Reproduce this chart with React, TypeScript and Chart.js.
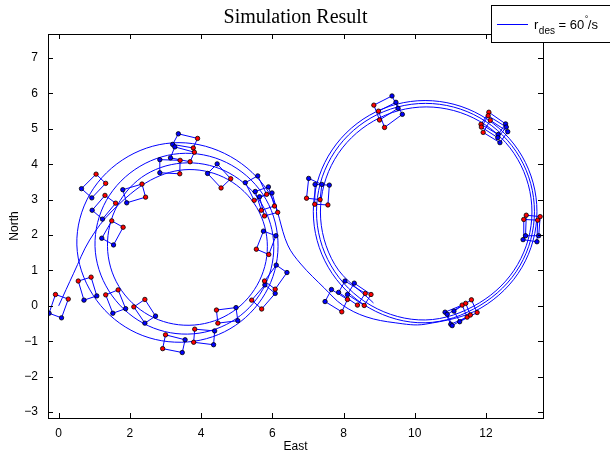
import React, { useEffect, useRef } from 'react';
import { Chart, registerables } from 'chart.js';

Chart.register(...registerables);

// ---- axes / text ----
const X_MIN = -0.3;
const X_MAX = 13.6;
const Y_MIN = -3.17;
const Y_MAX = 7.68;
const xTicks = [0, 2, 4, 6, 8, 10, 12];
const yTicks = [-3, -2, -1, 0, 1, 2, 3, 4, 5, 6, 7];
const titleText = 'Simulation Result';
const xLabel = 'East';
const yLabel = 'North';
const legendParts = { base: 'r', sub: 'des', mid: ' = 60', sup: '°', tail: '/s' };

// ---- trajectory (East, North) ----
const pathStart = [[0, 0], [0.42, 0.92], [0.87, 1.86], [1.5, 2.68]];
const leftLoop1 = [[2.58, 3.55], [3.66, 3.85], [4.75, 3.57], [5.56, 2.78], [5.86, 1.68], [5.57, 0.58], [4.77, -0.24], [3.66, -0.55], [2.54, -0.27], [1.69, 0.55], [1.37, 1.68], [1.65, 2.84]];
const leftLoop2 = [[2.45, 3.71], [3.62, 4.04], [4.81, 3.74], [5.70, 2.88], [6.04, 1.68], [5.73, 0.46], [4.85, -0.45], [3.62, -0.80], [2.37, -0.49], [1.41, 0.42], [1.02, 1.68], [1.34, 2.98]];
const leftLoop3 = [[2.28, 3.94], [3.56, 4.31], [4.86, 3.97], [5.82, 3.01], [6.16, 1.68], [5.80, 0.35], [4.81, -0.65], [3.44, -1.03], [2.03, -0.69], [0.96, 0.31], [0.51, 1.72], [0.88, 3.16]];
const crossing = [[1.95, 4.22], [3.38, 4.61], [4.82, 4.22], [5.91, 3.19], [6.43, 1.72], [6.80, 1.18], [7.46, 0.50], [7.97, 0.02], [8.63, -0.31], [9.45, -0.48], [10.29, -0.52]];
const rightLoop1 = [[11.86, -0.06], [13.01, 1.09], [13.43, 2.66], [13.01, 4.23], [11.86, 5.38], [10.29, 5.80], [8.72, 5.38], [7.57, 4.23], [7.15, 2.66], [7.57, 1.09], [8.72, -0.06], [10.29, -0.48]];
const rightLoop2 = [[11.83, 0.01], [12.95, 1.13], [13.36, 2.66], [12.95, 4.19], [11.83, 5.31], [10.30, 5.72], [8.77, 5.31], [7.65, 4.19], [7.24, 2.66], [7.65, 1.13], [8.77, 0.01], [10.30, -0.40]];
const rightLoop3 = [[11.81, 0.08], [12.89, 1.17], [13.29, 2.65], [12.89, 4.14], [11.81, 5.22], [10.32, 5.62], [8.84, 5.22], [7.75, 4.14], [7.35, 2.65], [7.75, 1.17], [8.84, 0.08]];

// ---- vehicle outlines: corners [blue, red, red, blue] ----
const leftBoxes = [
  [[-0.27, -0.21], [-0.09, 0.32], [0.27, 0.19], [0.08, -0.34]],
  [[0.71, 0.16], [0.55, 0.70], [0.91, 0.81], [1.07, 0.28]],
  [[1.52, -0.21], [1.32, 0.31], [1.67, 0.45], [1.88, -0.08]],
  [[2.42, -0.49], [2.11, -0.03], [2.42, 0.18], [2.72, -0.29]],
  [[3.55, -0.96], [3.00, -0.82], [2.92, -1.21], [3.47, -1.32]],
  [[4.38, -0.71], [3.82, -0.66], [3.79, -1.03], [4.35, -1.10]],
  [[4.98, -0.05], [4.43, -0.12], [4.47, -0.49], [5.03, -0.42]],
  [[6.11, 1.15], [5.78, 0.70], [6.08, 0.47], [6.41, 0.94]],
  [[5.79, 0.59], [5.42, 0.16], [5.70, -0.09], [6.08, 0.35]],
  [[5.75, 2.11], [5.55, 1.60], [5.90, 1.45], [6.10, 1.98]],
  [[5.59, 3.67], [5.84, 3.15], [5.49, 2.98], [5.24, 3.48]],
  [[5.89, 3.36], [6.06, 2.82], [5.69, 2.70], [5.52, 3.23]],
  [[5.99, 3.19], [6.15, 2.64], [5.78, 2.54], [5.64, 3.08]],
  [[4.45, 4.01], [4.83, 3.59], [4.56, 3.33], [4.18, 3.74]],
  [[3.36, 4.86], [3.90, 4.73], [3.78, 4.46], [3.20, 4.56]],
  [[3.26, 4.49], [3.81, 4.34], [3.69, 4.07], [3.14, 4.18]],
  [[2.84, 4.13], [3.41, 4.11], [3.40, 3.73], [2.84, 3.76]],
  [[0.64, 3.31], [1.05, 3.72], [1.32, 3.46], [0.93, 3.05]],
  [[0.94, 2.70], [1.30, 3.12], [1.60, 2.90], [1.23, 2.45]],
  [[1.21, 1.91], [1.49, 2.40], [1.81, 2.22], [1.54, 1.72]],
  [[1.80, 3.28], [2.34, 3.44], [2.44, 3.07], [1.91, 2.91]],
];
const rightBoxes = [
  [[9.36, 5.93], [8.85, 5.67], [9.01, 5.25], [9.53, 5.58]],
  [[9.47, 5.75], [8.98, 5.50], [9.15, 5.04], [9.65, 5.41]],
  [[7.02, 3.60], [6.96, 3.04], [7.34, 3.00], [7.39, 3.43]],
  [[7.20, 3.43], [7.19, 2.87], [7.56, 2.85], [7.60, 3.41]],
  [[12.55, 5.14], [12.08, 5.47], [11.86, 5.13], [12.34, 4.84]],
  [[12.57, 5.05], [12.06, 5.37], [11.87, 5.05], [12.33, 4.75]],
  [[12.61, 4.92], [12.12, 5.24], [11.92, 4.90], [12.39, 4.61]],
  [[13.11, 1.98], [13.13, 2.56], [13.52, 2.52], [13.48, 1.98]],
  [[13.04, 1.87], [13.06, 2.44], [13.45, 2.42], [13.43, 1.81]],
  [[7.66, 0.46], [8.11, 0.18], [7.95, -0.17], [7.48, 0.12]],
  [[8.04, 0.70], [8.61, 0.35], [8.39, 0.02], [7.86, 0.38]],
  [[8.30, 0.64], [8.77, 0.32], [8.58, 0.01], [8.11, 0.32]],
  [[10.85, -0.18], [11.33, 0.02], [11.47, -0.32], [11.01, -0.52]],
  [[10.91, -0.24], [11.43, 0.07], [11.56, -0.26], [11.05, -0.56]],
  [[11.10, -0.15], [11.59, 0.17], [11.75, -0.19], [11.26, -0.45]],
];

const LINE_BLUE = '#0000ff';
const SANS = '"Liberation Sans", Arial, sans-serif';

const pt = (p: number[]) => ({ x: p[0], y: p[1] });
const minusFmt = (v: number) => (v < 0 ? '\u2212' + Math.abs(v) : String(v));

const framePlugin = {
  id: 'matlabFrame',
  afterDraw(chart: any) {
    const { ctx, chartArea } = chart;
    const { left, right, top, bottom } = chartArea;
    const xs = chart.scales.x;
    const ys = chart.scales.y;
    ctx.save();
    ctx.strokeStyle = '#000';
    ctx.lineWidth = 1;
    // ticks pointing inward
    ctx.beginPath();
    xTicks.forEach((v) => {
      const px = Math.round(xs.getPixelForValue(v)) + 0.5;
      ctx.moveTo(px, bottom);
      ctx.lineTo(px, bottom - 5);
      ctx.moveTo(px, top);
      ctx.lineTo(px, top + 5);
    });
    yTicks.forEach((v) => {
      const py = Math.round(ys.getPixelForValue(v)) + 0.5;
      ctx.moveTo(left, py);
      ctx.lineTo(left + 5, py);
      ctx.moveTo(right, py);
      ctx.lineTo(right - 5, py);
    });
    ctx.stroke();
    ctx.strokeRect(Math.round(left) + 0.5, Math.round(top) + 0.5, Math.round(right - left), Math.round(bottom - top));

    // title
    ctx.fillStyle = '#000';
    ctx.font = '20px "Liberation Serif", "Times New Roman", serif';
    ctx.textAlign = 'center';
    ctx.textBaseline = 'alphabetic';
    ctx.fillText(titleText, (left + right) / 2, 23);

    // legend box
    const lx = 491;
    const ly = 5;
    ctx.fillStyle = '#fff';
    ctx.fillRect(lx, ly, 140, 37);
    ctx.strokeStyle = '#000';
    ctx.strokeRect(lx + 0.5, ly + 0.5, 140, 37);
    ctx.strokeStyle = LINE_BLUE;
    ctx.beginPath();
    ctx.moveTo(lx + 6, ly + 19.5);
    ctx.lineTo(lx + 37, ly + 19.5);
    ctx.stroke();
    ctx.fillStyle = '#000';
    ctx.textAlign = 'left';
    let cx = lx + 43;
    const base = ly + 24;
    ctx.font = '13px ' + SANS;
    ctx.fillText(legendParts.base, cx, base);
    cx += ctx.measureText(legendParts.base).width + 0.5;
    ctx.font = '10px ' + SANS;
    ctx.fillText(legendParts.sub, cx, base + 5);
    cx += ctx.measureText(legendParts.sub).width;
    ctx.font = '13px ' + SANS;
    ctx.fillText(legendParts.mid, cx, base);
    cx += ctx.measureText(legendParts.mid).width;
    ctx.font = '9px ' + SANS;
    ctx.fillText(legendParts.sup, cx + 0.5, base - 7);
    cx += ctx.measureText(legendParts.sup).width;
    ctx.font = '13px ' + SANS;
    ctx.fillText(legendParts.tail, cx, base);
    ctx.restore();
  },
};

export default function App() {
  const ref = useRef<HTMLCanvasElement | null>(null);

  useEffect(() => {
    if (!ref.current) return;
    const allBoxes = [...leftBoxes, ...rightBoxes];
    const pathData = [
      ...pathStart, ...leftLoop1, ...leftLoop2, ...leftLoop3, ...crossing,
      ...rightLoop1, ...rightLoop2, ...rightLoop3,
    ].map(pt);
    const edgeData: any[] = [];
    const redData: any[] = [];
    const blueData: any[] = [];
    allBoxes.forEach((b) => {
      edgeData.push(pt(b[0]), pt(b[1]), pt(b[2]), pt(b[3]), pt(b[0]), { x: NaN, y: NaN });
      blueData.push(pt(b[0]), pt(b[3]));
      redData.push(pt(b[1]), pt(b[2]));
    });

    const chart = new Chart(ref.current, {
      type: 'scatter',
      data: {
        datasets: [
          {
            label: 'red',
            data: redData,
            pointRadius: 2.2,
            pointBackgroundColor: '#ff0000',
            pointBorderColor: '#000',
            pointBorderWidth: 0.8,
            showLine: false,
          },
          {
            label: 'blue',
            data: blueData,
            pointRadius: 2.2,
            pointBackgroundColor: '#0000ff',
            pointBorderColor: '#000',
            pointBorderWidth: 0.8,
            showLine: false,
          },
          {
            label: 'edges',
            data: edgeData,
            showLine: true,
            spanGaps: false,
            borderColor: LINE_BLUE,
            borderWidth: 1,
            pointRadius: 0,
            tension: 0,
          },
          {
            label: 'path',
            data: pathData,
            showLine: true,
            borderColor: LINE_BLUE,
            borderWidth: 1,
            pointRadius: 0,
            tension: 0.35,
          },
        ],
      },
      options: {
        responsive: false,
        animation: false,
        events: [],
        layout: { padding: { left: 0, top: 34, right: 67, bottom: 0 } },
        plugins: {
          legend: { display: false },
          title: { display: false },
          tooltip: { enabled: false },
        },
        scales: {
          x: {
            type: 'linear',
            min: X_MIN,
            max: X_MAX,
            grid: { display: false, drawTicks: false },
            border: { display: false },
            afterBuildTicks: (s: any) => { s.ticks = xTicks.map((v) => ({ value: v })); },
            afterFit: (s: any) => { s.height = 39; },
            ticks: {
              color: '#000',
              padding: 8,
              maxRotation: 0,
              font: { family: SANS, size: 12 },
              callback: (v: any) => minusFmt(Number(v)),
            },
            title: {
              display: true,
              text: xLabel,
              color: '#000',
              font: { family: SANS, size: 12 },
              padding: { top: 0, bottom: 3 },
            },
          },
          y: {
            type: 'linear',
            min: Y_MIN,
            max: Y_MAX,
            grid: { display: false, drawTicks: false },
            border: { display: false },
            afterBuildTicks: (s: any) => { s.ticks = yTicks.map((v) => ({ value: v })); },
            afterFit: (s: any) => { s.width = 48; },
            ticks: {
              color: '#000',
              padding: 10,
              font: { family: SANS, size: 12 },
              callback: (v: any) => minusFmt(Number(v)),
            },
            title: {
              display: true,
              text: yLabel,
              color: '#000',
              font: { family: SANS, size: 12 },
              padding: { top: 7, bottom: 0 },
            },
          },
        },
      },
      plugins: [framePlugin],
    } as any);
    return () => chart.destroy();
  }, []);

  return (
    <canvas
      ref={ref}
      width={610}
      height={457}
      style={{ position: 'absolute', left: 0, top: 0, width: 610, height: 457, display: 'block' }}
    />
  );
}
